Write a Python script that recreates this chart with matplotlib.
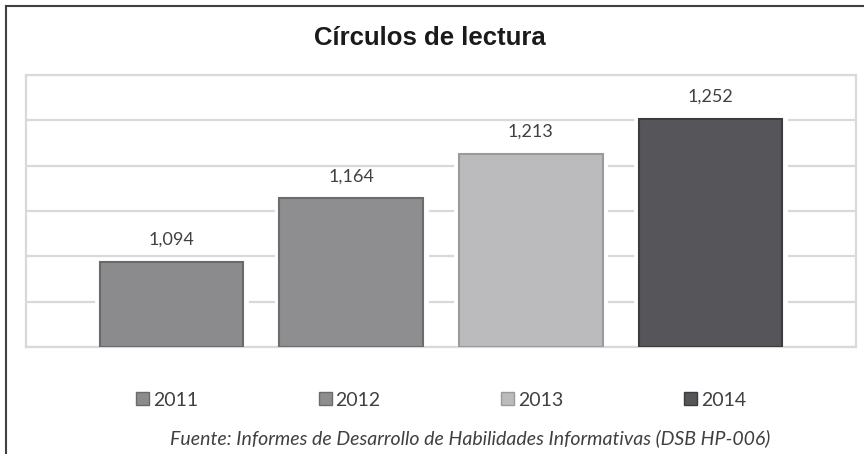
import matplotlib
matplotlib.use("Agg")
import matplotlib.pyplot as plt
from matplotlib.patches import Rectangle
from matplotlib.lines import Line2D

years = ["2011", "2012", "2013", "2014"]
values = [1094, 1164, 1213, 1252]
labels = ["1,094", "1,164", "1,213", "1,252"]
colors = ["#8b8b8d", "#8e8e90", "#bbbbbd", "#56565a"]
edges = ["#6a6a6c", "#6c6c6e", "#9a9a9c", "#3c3c3e"]
title = "Círculos de lectura"
source = "Fuente: Informes de Desarrollo de Habilidades Informativas (DSB HP-006)"
y_min, y_max, y_step = 1000, 1300, 50

label_font = "Lato"

fig = plt.figure(figsize=(8.64, 4.54), dpi=100)
ax = fig.add_axes([26/864, 107/454, 830/864, 272/454])

x = list(range(len(years)))
ax.set_xlim(-0.81, 3.81)
ax.set_ylim(y_min, y_max)

for v in range(y_min, y_max + 1, y_step):
    ax.axhline(v, color="#d9d9d9", lw=1.6, zorder=1)

# white halo behind bars to break gridlines
ax.bar(x, [v - y_min for v in values], bottom=y_min, width=0.84,
       color="white", edgecolor="white", lw=2, zorder=2)
bars = ax.bar(x, [v - y_min for v in values], bottom=y_min, width=0.8,
              color=colors, edgecolor=edges, lw=1.5, zorder=3)

for xi, v, lab in zip(x, values, labels):
    ax.annotate(lab, (xi, v), xytext=(0, 10), textcoords="offset points",
                ha="center", va="bottom", fontsize=13, color="#404040",
                family=label_font)

for s in ["left", "right", "top", "bottom"]:
    ax.spines[s].set_color("#d9d9d9")
    ax.spines[s].set_linewidth(1.6)
ax.set_xticks([])
ax.set_yticks([])

fig.text(430/864, 1 - 38/454, title, ha="center", va="center",
         fontsize=18.5, fontweight="bold", family="Liberation Sans", color="#1a1a1a")

# legend
handles = [Rectangle((0, 0), 1, 1, facecolor=c, edgecolor=e, lw=1) for c, e in zip(colors, edges)]
leg = fig.legend(handles, years, loc="center", bbox_to_anchor=(441/864, 1 - 400/454),
                 ncol=4, frameon=False, handlelength=0.67, handleheight=0.67,
                 handletextpad=0.2, columnspacing=6.2,
                 prop={"family": label_font, "size": 14})
for t in leg.get_texts():
    t.set_color("#404040")

fig.text(470/864, 1 - 438/454, source, ha="center", va="center",
         fontsize=14, style="italic", family=label_font, color="#404040")

# outer frame lines (left and top)
fig.add_artist(Line2D([6/864, 6/864], [0, 1 - 6/454], color="#404040", lw=1.5,
                      transform=fig.transFigure))
fig.add_artist(Line2D([6/864, 1], [1 - 6/454, 1 - 6/454], color="#404040", lw=1.5,
                      transform=fig.transFigure))

fig.savefig("out.png", dpi=100, facecolor="white")
